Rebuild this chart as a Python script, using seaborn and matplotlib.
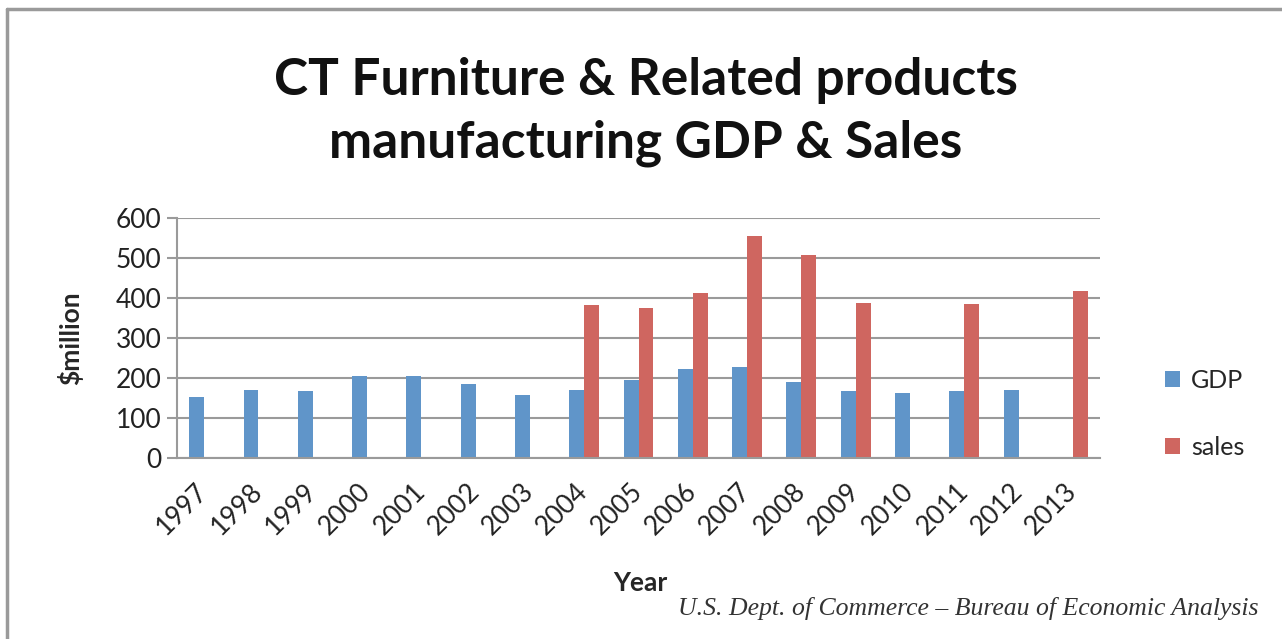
import numpy as np
import pandas as pd
import matplotlib
matplotlib.use('Agg')
import matplotlib.pyplot as plt
from matplotlib.lines import Line2D
from matplotlib.patches import Patch
import seaborn as sns

years = ['1997', '1998', '1999', '2000', '2001', '2002', '2003', '2004', '2005',
         '2006', '2007', '2008', '2009', '2010', '2011', '2012', '2013']
gdp = [152, 171, 167, 204, 204, 185, 157, 171, 196,
       222, 227, 190, 167, 162, 167, 171, np.nan]
sales = [np.nan, np.nan, np.nan, np.nan, np.nan, np.nan, np.nan, 383, 374,
         412, 554, 507, 388, np.nan, 384, np.nan, 417]
series_names = ['GDP', 'sales']
colors = ['#6095C9', '#CF6660']

df = pd.DataFrame({
    'Year': years * 2,
    'value': gdp + sales,
    'series': ['GDP'] * len(years) + ['sales'] * len(years),
})

sns.set_theme(style='white')
plt.rcParams['font.family'] = ['Lato', 'DejaVu Sans']

W, H = 1282, 639
fig = plt.figure(figsize=(W / 100, H / 100), dpi=100)
ax = fig.add_axes([177 / W, 1 - 458 / H, (1100 - 177) / W, (458 - 218) / H])

sns.barplot(data=df, x='Year', y='value', hue='series', order=years,
            hue_order=series_names, palette=colors, width=0.55, dodge=True,
            gap=0, saturation=1, ax=ax, legend=False, edgecolor='none')

ax.set_ylim(0, 600)
ax.set_xlim(-0.5, len(years) - 0.5)
ax.set_yticks(range(0, 601, 100))
ax.yaxis.grid(True, color='#9a9a9a', linewidth=1.5)
ax.set_axisbelow(True)
for s in ['top', 'right']:
    ax.spines[s].set_visible(False)
ax.spines['left'].set_color('#9a9a9a')
ax.spines['left'].set_linewidth(1.5)
ax.spines['bottom'].set_color('#9a9a9a')
ax.spines['bottom'].set_linewidth(1.5)
ax.tick_params(axis='y', left=True, length=7, width=1.5, color='#9a9a9a',
               labelsize=19, pad=4, labelcolor='#222222')
ax.tick_params(axis='x', bottom=False, labelsize=19, pad=15, labelcolor='#222222')
plt.setp(ax.get_xticklabels(), rotation=45, ha='right', va='center',
         rotation_mode='anchor')

ax.set_xlabel('Year', fontsize=19, fontweight='bold')
ax.set_ylabel('$million', fontsize=19, fontweight='bold')
ax.xaxis.set_label_coords((640 - 177) / (1100 - 177), -(583 - 458) / (458 - 218))
ax.yaxis.set_label_coords(-(177 - 70) / (1100 - 177), 0.5)
ax.yaxis.label.set_va('center')
ax.xaxis.label.set_va('center')

fig.text(646 / W, 1 - 112 / H, 'CT Furniture & Related products\nmanufacturing GDP & Sales',
         ha='center', va='center', fontsize=37, fontweight='bold',
         linespacing=1.4, color='#111111')

handles = [Patch(facecolor=c, edgecolor='none') for c in colors]
fig.legend(handles, series_names, loc='center left',
           bbox_to_anchor=(1152 / W, 1 - 414 / H), frameon=False,
           fontsize=18, handlelength=0.6, handleheight=0.6,
           handletextpad=0.45, labelspacing=1.75, borderpad=0)

fig.text(1258 / W, 1 - 608 / H,
         'U.S. Dept. of Commerce \u2013 Bureau of Economic Analysis',
         ha='right', va='center', fontsize=18.5, style='italic',
         family=['Liberation Serif', 'DejaVu Serif'], color='#333333')

# outer frame: left and top edges
fig.add_artist(Line2D([7 / W, 7 / W], [0, 1 - 9 / H], transform=fig.transFigure,
                      color='#9a9a9a', linewidth=2.5))
fig.add_artist(Line2D([7 / W, 1], [1 - 9 / H, 1 - 9 / H], transform=fig.transFigure,
                      color='#9a9a9a', linewidth=2.5))

fig.savefig('out.png', dpi=100)
